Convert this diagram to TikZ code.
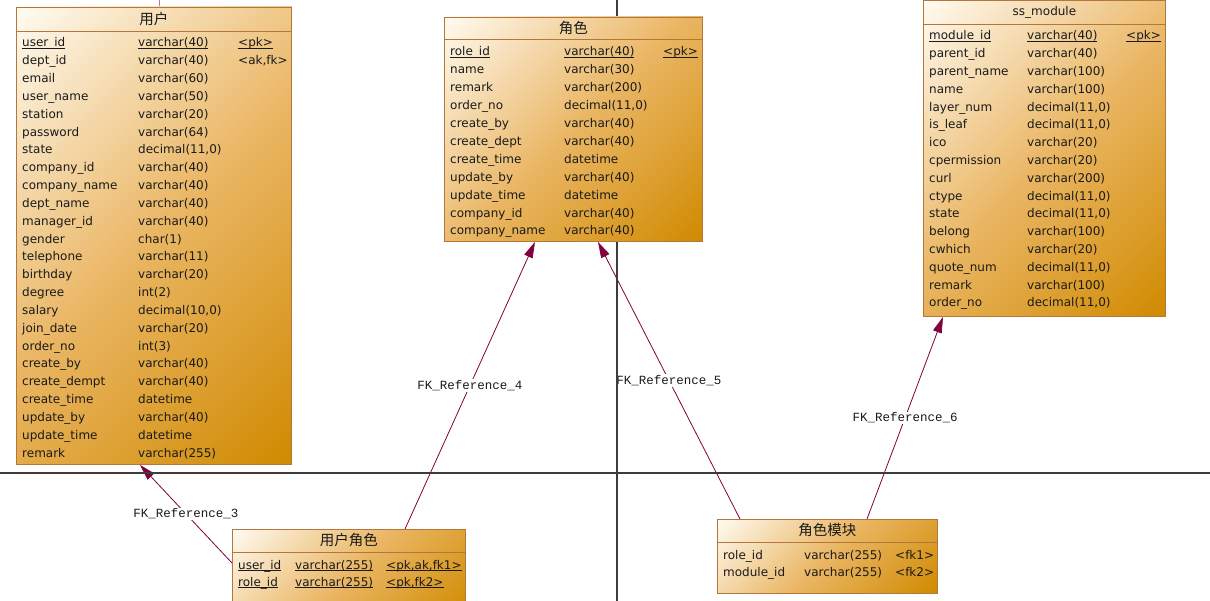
\documentclass[tikz,border=0pt]{standalone}
\usepackage{fontspec}
\setmainfont{DejaVu Sans}
\newfontfamily\cjkfont{Noto Sans CJK SC}
\newfontfamily\fkfont{Liberation Mono}
\usetikzlibrary{calc,arrows.meta}
\pgfdeclarelayer{back}
\pgfdeclarelayer{shade}
\pgfsetlayers{back,shade,main}

\definecolor{tbllight}{HTML}{FFFBF2}
\definecolor{tblmid}{HTML}{EAB664}
\definecolor{tbldark}{HTML}{D08A00}
\definecolor{tblborder}{HTML}{B4763A}
\definecolor{tbltext}{HTML}{1A1A1A}
\definecolor{fkline}{HTML}{800040}
\definecolor{stubcolor}{HTML}{C070A0}
\definecolor{pagecolor}{HTML}{3C3C3C}

% underline that sits close to the baseline
\newcommand{\keyline}[1]{\leavevmode\setbox0\hbox{#1}\rlap{\rule[-1.3pt]{\wd0}{0.7pt}}\box0}

\tikzset{
  tablebox/.style={rectangle, draw=tblborder, line width=0.9pt, anchor=north west, inner sep=0pt},
  tabletitle/.style={inner sep=0pt, text=tbltext, font=\cjkfont\fontsize{14.5}{16}\selectfont},
  fieldtext/.style={anchor=west, inner sep=0pt, text height=11pt, text depth=1pt,
    text=tbltext, font=\fontsize{12}{14}\selectfont},
  fkarrow/.style={draw=fkline, line width=0.8pt, -{Triangle[length=16pt,width=9pt]}},
  fklabel/.style={fill=white, inner sep=1pt, text=tbltext, font=\fkfont\fontsize{12.5}{14}\selectfont},
  pagerule/.style={draw=pagecolor, line width=1.2pt}
}

\begin{document}
\begin{tikzpicture}[x=1pt, y=-1pt]
  \useasboundingbox (0,0) rectangle (1210,601);

  % tables
  \node [tablebox, minimum width=275pt, minimum height=457pt] (user) at (16,7) {};
  \node [tablebox, minimum width=258pt, minimum height=224pt] (role) at (444,17) {};
  \node [tablebox, minimum width=242pt, minimum height=316pt] (module) at (923,0) {};
  \node [tablebox, minimum width=233pt, minimum height=90pt] (ur) at (232,529) {};
  \node [tablebox, minimum width=220pt, minimum height=74pt] (rm) at (717,519) {};

  % diagonal gradient of each table
  \begin{pgfonlayer}{shade}
    \foreach \tbl/\half in {user/258.8, role/170.4, module/197.3, ur/114.2, rm/104} {
      \begin{scope}
        \clip (\tbl.north west) rectangle (\tbl.south east);
        \begin{scope}[transform canvas={shift={(\tbl.center)}, rotate=45}]
          \shade [top color=tbllight, bottom color=tbldark, middle color=tblmid]
            ({-2*\half},-\half) rectangle ({2*\half},\half);
        \end{scope}
      \end{scope}
    }
  \end{pgfonlayer}

  % title bands
  \node [tabletitle] (usertitle) at ($(user.north)+(0,12)$) {用户};
  \node [tabletitle] (roletitle) at ($(role.north)+(0,11.5)$) {角色};
  \node [tabletitle, font=\fontsize{12}{14}\selectfont] (moduletitle) at ($(module.north)+(0,12)$) {ss\_module};
  \node [tabletitle] (urtitle) at ($(ur.north)+(0,11.5)$) {用户角色};
  \node [tabletitle] (rmtitle) at ($(rm.north)+(0,11.5)$) {角色模块};
  \draw [tblborder, line width=0.9pt] ($(user.north west)+(0,24)$) -- ($(user.north east)+(0,24)$);
  \draw [tblborder, line width=0.9pt] ($(role.north west)+(0,22)$) -- ($(role.north east)+(0,22)$);
  \draw [tblborder, line width=0.9pt] ($(module.north west)+(0,24)$) -- ($(module.north east)+(0,24)$);
  \draw [tblborder, line width=0.9pt] ($(ur.north west)+(0,23)$) -- ($(ur.north east)+(0,23)$);
  \draw [tblborder, line width=0.9pt] ($(rm.north west)+(0,23)$) -- ($(rm.north east)+(0,23)$);

  % 用户 columns
  \node [fieldtext] (userkey0) at (238,42) {\keyline{<pk>}};
  \node [fieldtext] (userkey1) at (238,59.85) {<ak,fk>};
  \foreach \fname/\ftype [count=\i from 0] in {
      \keyline{user\_id}/\keyline{varchar(40)}, dept\_id/varchar(40),
      email/varchar(60), user\_name/varchar(50), station/varchar(20),
      password/varchar(64), {state/decimal(11,0)}, company\_id/varchar(40),
      company\_name/varchar(40), dept\_name/varchar(40), manager\_id/varchar(40),
      gender/char(1), telephone/varchar(11), birthday/varchar(20), degree/int(2),
      {salary/decimal(10,0)}, join\_date/varchar(20), order\_no/int(3),
      create\_by/varchar(40), create\_dempt/varchar(40), create\_time/datetime,
      update\_by/varchar(40), update\_time/datetime, remark/varchar(255)} {
    \node [fieldtext] (username\i) at (22,{42+17.83*\i}) {\fname};
    \node [fieldtext] (usertype\i) at (138,{42+17.83*\i}) {\ftype};
  }

  % 角色 columns
  \node [fieldtext] (rolekey0) at (663,51) {\keyline{<pk>}};
  \foreach \fname/\ftype [count=\i from 0] in {
      \keyline{role\_id}/\keyline{varchar(40)}, name/varchar(30),
      remark/varchar(200), {order\_no/decimal(11,0)}, create\_by/varchar(40),
      create\_dept/varchar(40), create\_time/datetime, update\_by/varchar(40),
      update\_time/datetime, company\_id/varchar(40), company\_name/varchar(40)} {
    \node [fieldtext] (rolename\i) at (450,{51+17.9*\i}) {\fname};
    \node [fieldtext] (roletype\i) at (564,{51+17.9*\i}) {\ftype};
  }

  % ss_module columns
  \node [fieldtext] (modulekey0) at (1126,35) {\keyline{<pk>}};
  \foreach \fname/\ftype [count=\i from 0] in {
      \keyline{module\_id}/\keyline{varchar(40)}, parent\_id/varchar(40),
      parent\_name/varchar(100), name/varchar(100), {layer\_num/decimal(11,0)},
      {is\_leaf/decimal(11,0)}, ico/varchar(20), cpermission/varchar(20),
      curl/varchar(200), {ctype/decimal(11,0)}, {state/decimal(11,0)},
      belong/varchar(100), cwhich/varchar(20), {quote\_num/decimal(11,0)},
      remark/varchar(100), {order\_no/decimal(11,0)}} {
    \node [fieldtext] (modulename\i) at (929,{35+17.8*\i}) {\fname};
    \node [fieldtext] (moduletype\i) at (1027,{35+17.8*\i}) {\ftype};
  }

  % 用户角色 columns
  \node [fieldtext] (urname0) at (238,564) {\keyline{user\_id}};
  \node [fieldtext] (urtype0) at (295,564) {\keyline{varchar(255)}};
  \node [fieldtext] (urkey0) at (386,564) {\keyline{<pk,ak,fk1>}};
  \node [fieldtext] (urname1) at (238,581) {\keyline{role\_id}};
  \node [fieldtext] (urtype1) at (295,581) {\keyline{varchar(255)}};
  \node [fieldtext] (urkey1) at (386,581) {\keyline{<pk,fk2>}};

  % 角色模块 columns
  \node [fieldtext] (rmname0) at (723,554) {role\_id};
  \node [fieldtext] (rmtype0) at (804,554) {varchar(255)};
  \node [fieldtext] (rmkey0) at (895,554) {<fk1>};
  \node [fieldtext] (rmname1) at (723,571) {module\_id};
  \node [fieldtext] (rmtype1) at (804,571) {varchar(255)};
  \node [fieldtext] (rmkey1) at (895,571) {<fk2>};

  \begin{pgfonlayer}{back}
    % references
    \draw [fkarrow] ($(ur.north west)+(0,34)$) -- node [fklabel] (fk3) {FK\_Reference\_3} ($(user.south west)+(124,0)$);
    \draw [fkarrow] ($(ur.north west)+(173,0)$) -- node [fklabel] (fk4) {FK\_Reference\_4} ($(role.south west)+(91,0)$);
    \draw [fkarrow] ($(rm.north west)+(23,0)$) -- node [fklabel] (fk5) {FK\_Reference\_5} ($(role.south west)+(154,0)$);
    \draw [fkarrow] ($(rm.north west)+(150,0)$) -- node [fklabel] (fk6) {FK\_Reference\_6} ($(module.south west)+(20,0)$);
    \coordinate (stub) at (159,0);
    \draw [stubcolor, line width=1pt] (stub) -- ($(user.north west)+(143,0)$);

    % page borders
    \draw [pagerule] (0,473) -- (1210,473);
    \draw [pagerule] (617,0) -- (617,601);
  \end{pgfonlayer}
\end{tikzpicture}
\end{document}
